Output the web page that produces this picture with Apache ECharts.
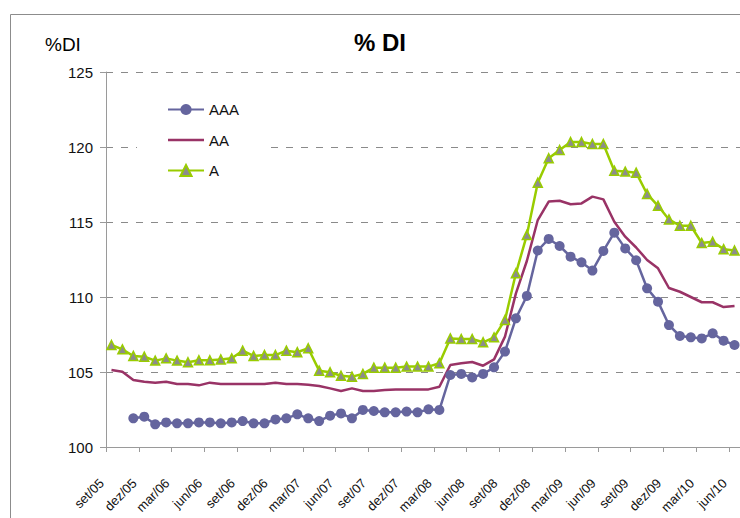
<!DOCTYPE html>
<html>
<head>
<meta charset="utf-8">
<script src="https://cdn.jsdelivr.net/npm/echarts@6/dist/echarts.min.js"></script>
<style>html,body{margin:0;padding:0;background:#fff;}#c{width:740px;height:518px;}</style>
</head>
<body>
<div id="c"></div>
<script>
const categories = ['set/05','out/05','nov/05','dez/05','jan/06','fev/06','mar/06','abr/06','mai/06','jun/06','jul/06','ago/06','set/06','out/06','nov/06','dez/06','jan/07','fev/07','mar/07','abr/07','mai/07','jun/07','jul/07','ago/07','set/07','out/07','nov/07','dez/07','jan/08','fev/08','mar/08','abr/08','mai/08','jun/08','jul/08','ago/08','set/08','out/08','nov/08','dez/08','jan/09','fev/09','mar/09','abr/09','mai/09','jun/09','jul/09','ago/09','set/09','out/09','nov/09','dez/09','jan/10','fev/10','mar/10','abr/10','mai/10','jun/10'];

const seriesAAA = [null,null,101.91,102.02,101.51,101.64,101.58,101.58,101.64,101.64,101.58,101.64,101.73,101.58,101.58,101.84,101.91,102.18,101.91,101.73,102.09,102.24,101.91,102.47,102.40,102.31,102.31,102.36,102.31,102.51,102.47,104.80,104.87,104.64,104.87,105.31,106.36,108.58,110.07,113.10,113.87,113.40,112.69,112.31,111.76,113.07,114.29,113.24,112.45,110.58,109.69,108.13,107.40,107.31,107.24,107.58,107.09,106.80];

const seriesAA = [105.13,105.02,104.47,104.35,104.29,104.35,104.20,104.20,104.11,104.29,104.20,104.20,104.20,104.20,104.20,104.29,104.20,104.20,104.15,104.07,103.91,103.73,103.91,103.73,103.73,103.80,103.84,103.84,103.84,103.84,104.02,105.47,105.58,105.67,105.42,105.84,107.36,110.24,112.40,115.13,116.36,116.42,116.18,116.24,116.69,116.51,115.02,114.02,113.30,112.47,111.91,110.60,110.35,110.00,109.65,109.65,109.33,109.40];

const seriesA = [106.80,106.51,106.07,106.02,105.76,105.91,105.76,105.65,105.78,105.78,105.84,105.91,106.42,106.07,106.13,106.13,106.42,106.32,106.58,105.09,104.98,104.75,104.69,104.87,105.29,105.29,105.29,105.36,105.36,105.36,105.58,107.24,107.20,107.20,106.98,107.31,108.47,111.58,114.13,117.62,119.25,119.80,120.33,120.33,120.20,120.20,118.42,118.36,118.29,116.87,116.08,115.17,114.75,114.75,113.60,113.68,113.19,113.10];

const seriesNames = ['AAA','AA','A'];
const titleText = '% DI';
const yAxisTitle = '%DI';

const FONT = 'Liberation Sans, Arial, sans-serif';
const chart = echarts.init(document.getElementById('c'), null, {renderer:'svg'});
chart.setOption({
  animation: false,
  backgroundColor: '#fff',
  graphic: [
    {type:'rect', shape:{x:10.5, y:14.5, width:900, height:700}, style:{fill:'none', stroke:'#8c8c8c', lineWidth:1}, z:-10},
    {type:'text', x:380, y:42, style:{text:titleText, font:'bold 24px ' + FONT, fill:'#000', align:'center', verticalAlign:'middle'}},
    {type:'text', x:45, y:44, style:{text:yAxisTitle, font:'19px ' + FONT, fill:'#000', align:'left', verticalAlign:'middle'}}
  ],
  legend: {
    data: [
      {name: seriesNames[0]},
      {name: seriesNames[1], icon: 'path://M0,0 L36,0 L36,2.5 L0,2.5 Z'},
      {name: seriesNames[2]}
    ],
    orient: 'vertical',
    left: 137, top: 90,
    padding: [12, 28, 12, 30],
    itemWidth: 36, itemHeight: 14, itemGap: 15.5,
    backgroundColor: '#fff',
    textStyle: {fontFamily: FONT, fontSize: 15, color: '#111'}
  },
  grid: {left: 106, top: 72, width: 646, height: 375, containLabel: false},
  xAxis: {
    type: 'category',
    data: categories,
    boundaryGap: true,
    axisLine: {lineStyle: {color: '#9a9a9a', width: 1}},
    axisTick: {show: true, interval: 2, length: 5, lineStyle: {color: '#9a9a9a'}},
    axisLabel: {interval: 2, rotate: 45, margin: 24, padding: [0, 14, 0, 0], fontFamily: FONT, fontSize: 13, color: '#111'},
    splitLine: {show: false}
  },
  yAxis: {
    type: 'value',
    min: 100, max: 125, interval: 5,
    axisLine: {show: true, lineStyle: {color: '#9a9a9a', width: 1}},
    axisTick: {show: true, length: 6, lineStyle: {color: '#9a9a9a'}},
    axisLabel: {margin: 13, fontFamily: FONT, fontSize: 15, color: '#111'},
    splitLine: {show: true, lineStyle: {color: '#8a8a8a', width: 1, type: [7, 8]}}
  },
  series: [
    {
      name: 'AAA', type: 'line', data: seriesAAA,
      symbol: 'circle', symbolSize: 10, showSymbol: true, showAllSymbol: true,
      itemStyle: {color: '#65659e'},
      lineStyle: {color: '#65659e', width: 2.5}
    },
    {
      name: 'AA', type: 'line', data: seriesAA,
      symbol: 'none',
      itemStyle: {color: '#993366'},
      lineStyle: {color: '#993366', width: 2.5}
    },
    {
      name: 'A', type: 'line', data: seriesA,
      symbol: 'triangle', symbolSize: 9, showSymbol: true, showAllSymbol: true,
      itemStyle: {color: '#8c8c8c', borderColor: '#99cc00', borderWidth: 1.5},
      lineStyle: {color: '#99cc00', width: 2.5}
    }
  ]
});
</script>
</body>
</html>
